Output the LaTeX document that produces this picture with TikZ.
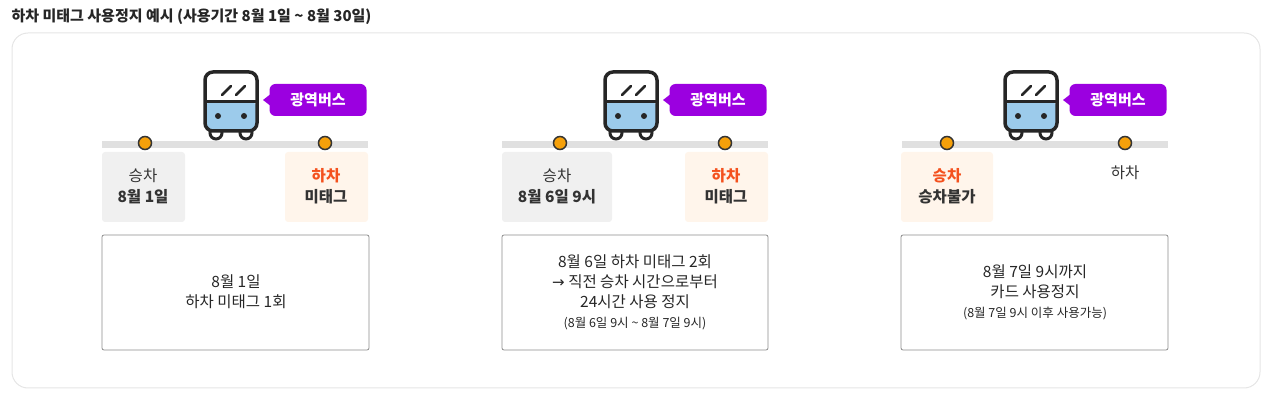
\documentclass[tikz,border=0pt]{standalone}
\usepackage{fontspec}
\setmainfont{Noto Sans CJK KR}
\definecolor{busblue}{HTML}{9CCBEB}
\definecolor{tagpurple}{HTML}{9B00E0}
\definecolor{dotorange}{HTML}{F5A00A}
\definecolor{redor}{HTML}{F4511E}
\begin{document}
\begin{tikzpicture}[x=1pt,y=-1pt,
  lbl/.style={font=\fontsize{15.5}{21}\selectfont, align=center, text=black!80},
  body/.style={font=\fontsize{15.5}{20}\selectfont, align=center, text=black!85},
  dot/.style={circle, fill=dotorange, draw=black!80, line width=1.5pt, minimum size=13pt, inner sep=0pt},
  tag/.style={fill=tagpurple, text=white, rounded corners=6pt, font=\fontsize{15}{18}\selectfont\bfseries, minimum width=97pt, minimum height=32pt, inner sep=0pt},
  graybox/.style={fill=black!6, rounded corners=3pt},
  beigebox/.style={fill=orange!8, rounded corners=3pt},
  infobox/.style={draw=black!45, line width=0.8pt, rounded corners=2pt}]
\useasboundingbox (0,0) rectangle (1275,403);
\node[anchor=west, font=\fontsize{15}{18}\selectfont\bfseries, text=black!85] (title) at (8,17) {하차 미태그 사용정지 예시 (사용기간 8월 1일 \textasciitilde{} 8월 30일)};
\draw[black!10, line width=1pt, rounded corners=16pt] (12,33) rectangle (1260,388);
\foreach \s/\n in {0/a,400/b,800/c}{
\begin{scope}[xshift=\s pt]
  \draw[black!12, line width=7pt] (102,145) -- (368,145);
  % bus
  \draw[black!85, line width=3pt, fill=white] (216,133) circle (6);
  \draw[black!85, line width=3pt, fill=white] (246,133) circle (6);
  \fill[busblue, rounded corners=6pt] (205,102) rectangle (257,130);
  \draw[black!85, line width=3.5pt, rounded corners=8pt] (205,72) rectangle (257,131);
  \draw[black!85, line width=3pt] (205,102) -- (257,102);
  \draw[black!85, line width=2.5pt, line cap=round] (222,95) -- (231,86) (236,95) -- (245,86);
  \fill[black!85] (218,116) circle (3) (244,116) circle (3);
  \node[tag] (tag\n) at (318,100) {광역버스};
  \fill[tagpurple] (272,93) -- (263,100) -- (272,107) -- cycle;
\end{scope}}
% panel 1
\node[dot] (d1a) at (145,143) {};
\node[dot] (d1b) at (325,143) {};
\fill[graybox] (102,152) rectangle (185,222);
\fill[beigebox] (285,152) rectangle (368,222);
\node[lbl] (l1a) at (143,186) {승차\\\textbf{8월 1일}};
\node[lbl] (l1b) at (326,186) {\textbf{\textcolor{redor}{하차}}\\\textbf{미태그}};
\draw[infobox] (102,235) rectangle (369,350);
\node[body] (t1) at (236,292) {8월 1일\\하차 미태그 1회};
% panel 2
\node[dot] (d2a) at (560,143) {};
\node[dot] (d2b) at (725,143) {};
\fill[graybox] (502,152) rectangle (612,222);
\fill[beigebox] (685,152) rectangle (768,222);
\node[lbl] (l2a) at (557,186) {승차\\\textbf{8월 6일 9시}};
\node[lbl] (l2b) at (726,186) {\textbf{\textcolor{redor}{하차}}\\\textbf{미태그}};
\draw[infobox] (502,235) rectangle (768,350);
\node[body] (t2) at (635,292) {8월 6일 하차 미태그 2회\\{\fontspec{DejaVu Sans}\fontsize{15}{15}\selectfont →} 직전 승차 시간으로부터\\24시간 사용 정지\\{\fontsize{12.5}{17}\selectfont (8월 6일 9시 \textasciitilde{} 8월 7일 9시)}};
% panel 3
\node[dot] (d3a) at (947,143) {};
\node[dot] (d3b) at (1125,143) {};
\fill[beigebox] (901,152) rectangle (993,222);
\node[lbl] (l3a) at (947,186) {\textbf{\textcolor{redor}{승차}}\\\textbf{승차불가}};
\node[lbl] (l3b) at (1125,173) {하차};
\draw[infobox] (901,235) rectangle (1168,350);
\node[body] (t3) at (1035,292) {8월 7일 9시까지\\카드 사용정지\\{\fontsize{12.5}{17}\selectfont (8월 7일 9시 이후 사용가능)}};
\end{tikzpicture}
\end{document}
